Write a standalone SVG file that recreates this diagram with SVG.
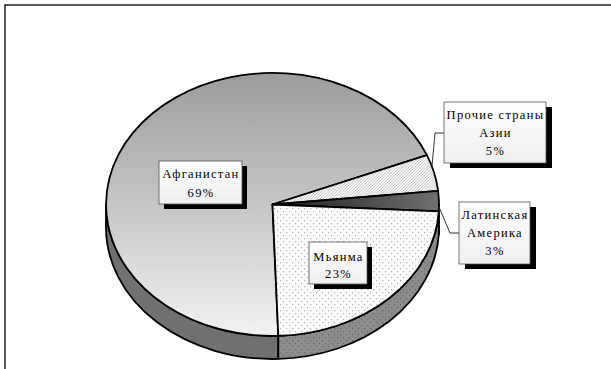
<svg xmlns="http://www.w3.org/2000/svg" width="611" height="369" viewBox="0 0 611 369">
<style>
.t{font-family:"Liberation Serif","Times New Roman",serif;font-size:12.5px;letter-spacing:1.3px;fill:#000;text-anchor:middle}
.box{fill:url(#boxg);stroke:#555;stroke-width:0.8}
.sh{fill:#000}
.edge{stroke:#000;stroke-width:1.8;stroke-linejoin:round}
.lead{fill:none;stroke:#333;stroke-width:1}
</style>
<defs>
<linearGradient id="afg" gradientUnits="userSpaceOnUse" x1="0" y1="73" x2="0" y2="336">
<stop offset="0" stop-color="#9c9c9c"/><stop offset="0.5" stop-color="#c6c6c6"/><stop offset="1" stop-color="#f2f2f2"/>
</linearGradient>
<linearGradient id="lat" gradientUnits="userSpaceOnUse" x1="273" y1="0" x2="439" y2="0">
<stop offset="0" stop-color="#1e1e1e"/><stop offset="1" stop-color="#707070"/>
</linearGradient>
<linearGradient id="boxg" x1="0" y1="0" x2="0" y2="1">
<stop offset="0" stop-color="#ffffff"/><stop offset="1" stop-color="#efefef"/>
</linearGradient>
<pattern id="hatch" patternUnits="userSpaceOnUse" width="3" height="3">
<rect width="3" height="3" fill="#f4f4f4"/>
<path d="M-1,1 L1,-1 M0,3 L3,0 M2,4 L4,2" stroke="#b8b8b8" stroke-width="0.7"/>
</pattern>
<pattern id="dots" patternUnits="userSpaceOnUse" width="6" height="6">
<rect width="6" height="6" fill="#fbfbfb"/>
<rect x="1" y="1" width="1.2" height="1.2" fill="#b4b4b4"/>
<rect x="4" y="4" width="1.2" height="1.2" fill="#b4b4b4"/>
</pattern>
<pattern id="dotsd" patternUnits="userSpaceOnUse" width="6" height="6">
<rect width="6" height="6" fill="#8c8c8c"/>
<rect x="1" y="1" width="1.2" height="1.2" fill="#6a6a6a"/>
<rect x="4" y="4" width="1.2" height="1.2" fill="#6a6a6a"/>
</pattern>
</defs>
<rect width="611" height="369" fill="#fff"/>
<path d="M5,369 V5 H611" fill="none" stroke="#222" stroke-width="1.5"/>

<g id="pie">
<path id="side-afg" class="edge" fill="#707070" d="M278.3,335.9 A166.5,131.5 0 0 1 106,204.5 L106,227.5 A166.5,131.5 0 0 0 278.3,358.9 Z"/>
<path id="side-mya" class="edge" fill="url(#dotsd)" d="M438.8,211.4 A166.5,131.5 0 0 1 278.3,335.9 L278.3,358.9 A166.5,131.5 0 0 0 438.8,234.4 Z"/>
<path id="side-lat" class="edge" fill="#505050" d="M439,204.5 A166.5,131.5 0 0 1 438.8,211.4 L438.8,234.4 A166.5,131.5 0 0 0 439,227.5 Z"/>
<path id="slice-afg" class="edge" fill="url(#afg)" d="M272.5,204.5 L426.9,155.2 A166.5,131.5 0 1 0 278.3,335.9 Z"/>
<path id="slice-oth" class="edge" fill="url(#hatch)" d="M272.5,204.5 L438.1,190.8 A166.5,131.5 0 0 0 426.9,155.2 Z"/>
<path id="slice-lat" class="edge" fill="url(#lat)" d="M272.5,204.5 L438.8,211.4 A166.5,131.5 0 0 0 438.1,190.8 Z"/>
<path id="slice-mya" class="edge" fill="url(#dots)" d="M272.5,204.5 L278.3,335.9 A166.5,131.5 0 0 0 438.8,211.4 Z"/>
</g>

<g id="connectors">
<path class="lead" d="M444,133 H435 L432,166"/>
<path class="lead" d="M459,233 H450 L439,207"/>
</g>

<g id="label-afg">
<rect class="sh" x="164" y="166" width="83" height="43"/>
<rect class="box" x="159" y="161" width="83" height="43"/>
<text class="t" x="201" y="178">Афганистан</text>
<text class="t" x="201" y="197">69%</text>
</g>
<g id="label-mya">
<rect class="sh" x="314" y="247" width="58" height="42"/>
<rect class="box" x="309" y="242" width="58" height="42"/>
<text class="t" x="338.5" y="261">Мьянма</text>
<text class="t" x="338.5" y="278">23%</text>
</g>
<g id="label-oth">
<rect class="sh" x="450" y="107" width="102" height="61"/>
<rect class="box" x="444" y="102" width="102" height="61"/>
<text class="t" x="495.5" y="119">Прочие страны</text>
<text class="t" x="495.5" y="137">Азии</text>
<text class="t" x="495.5" y="155">5%</text>
</g>
<g id="label-lat">
<rect class="sh" x="465" y="207" width="71" height="62"/>
<rect class="box" x="459" y="202" width="71" height="62"/>
<text class="t" x="495" y="219">Латинская</text>
<text class="t" x="495" y="237">Америка</text>
<text class="t" x="495" y="255">3%</text>
</g>
</svg>
